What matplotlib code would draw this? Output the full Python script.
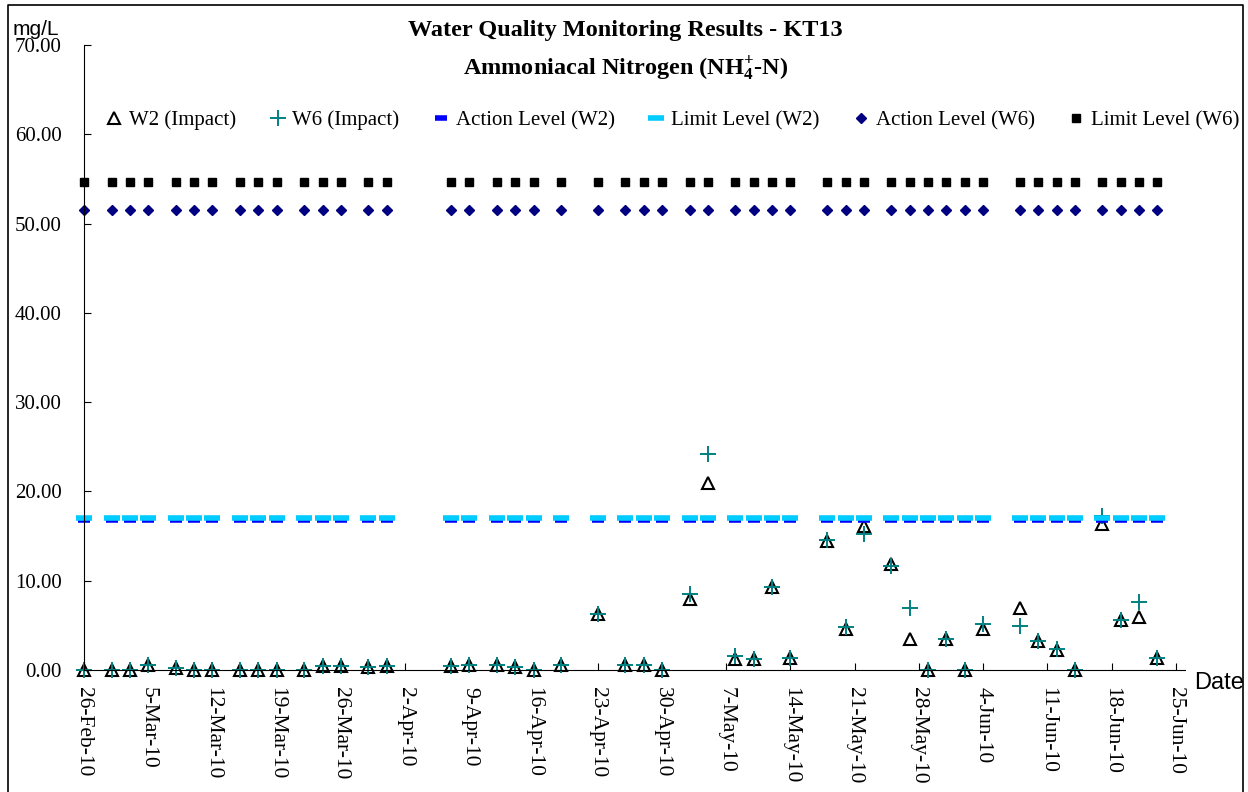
import pandas as pd
import matplotlib.pyplot as plt
import matplotlib.dates as mdates
from matplotlib.lines import Line2D
from matplotlib.ticker import FuncFormatter, FormatStrFormatter

# sampling dates and results (mg/L)
dates = ["2010-02-26", "2010-03-01", "2010-03-03", "2010-03-05", "2010-03-08",
         "2010-03-10", "2010-03-12", "2010-03-15", "2010-03-17", "2010-03-19",
         "2010-03-22", "2010-03-24", "2010-03-26", "2010-03-29", "2010-03-31",
         "2010-04-07", "2010-04-09", "2010-04-12", "2010-04-14", "2010-04-16",
         "2010-04-19", "2010-04-23", "2010-04-26", "2010-04-28", "2010-04-30",
         "2010-05-03", "2010-05-05", "2010-05-08", "2010-05-10", "2010-05-12",
         "2010-05-14", "2010-05-18", "2010-05-20", "2010-05-22", "2010-05-25",
         "2010-05-27", "2010-05-29", "2010-05-31", "2010-06-02", "2010-06-04",
         "2010-06-08", "2010-06-10", "2010-06-12", "2010-06-14", "2010-06-17",
         "2010-06-19", "2010-06-21", "2010-06-23"]
w2 = [0.0, 0.0, 0.0, 0.6, 0.2, 0.0, 0.0, 0.0, 0.0, 0.0,
      0.0, 0.4, 0.4, 0.3, 0.5, 0.4, 0.6, 0.6, 0.3, 0.0,
      0.6, 6.3, 0.6, 0.6, 0.0, 8.0, 21.0, 1.2, 1.2, 9.3,
      1.4, 14.5, 4.6, 16.1, 11.9, 3.5, 0.0, 3.5, 0.0, 4.6,
      7.0, 3.3, 2.2, 0.0, 16.4, 5.6, 5.9, 1.4]
w6 = [0.0, 0.0, 0.0, 0.6, 0.2, 0.0, 0.0, 0.0, 0.0, 0.0,
      0.0, 0.4, 0.4, 0.3, 0.5, 0.4, 0.6, 0.6, 0.3, 0.0,
      0.6, 6.3, 0.6, 0.6, 0.0, 8.5, 24.2, 1.6, 1.2, 9.3,
      1.4, 14.6, 4.8, 15.2, 11.7, 7.0, 0.0, 3.5, 0.0, 5.1,
      4.9, 3.3, 2.4, 0.0, 17.3, 5.6, 7.6, 1.4]
action_w2 = 16.8
limit_w2 = 17.0
action_w6 = 51.5
limit_w6 = 54.6

x = pd.to_datetime(dates)
n = len(dates)
serif = "Liberation Serif"
narrow = ["Liberation Sans Narrow", "Liberation Sans", "DejaVu Sans"]

plt.rcParams["font.family"] = serif
plt.rcParams["mathtext.fontset"] = "custom"
plt.rcParams["mathtext.rm"] = serif
plt.rcParams["mathtext.default"] = "regular"

fig = plt.figure(figsize=(12.48, 7.92), dpi=100)
ax = fig.add_axes([0.0673, 0.154, 0.8822, 0.7892])

ax.plot(x, w2, ls="none", marker="^", ms=9, mfc="none", mec="black", mew=1.5,
        label="W2 (Impact)")
ax.plot(x, w6, ls="none", marker="+", ms=11, mec="#008080", mew=1.4,
        label="W6 (Impact)")
ax.plot(x, [action_w2] * n, ls="none", marker="_", ms=9, mec="#0000FF", mew=4,
        label="Action Level (W2)")
ax.plot(x, [limit_w2] * n, ls="none", marker="_", ms=11, mec="#00CCFF", mew=4,
        label="Limit Level (W2)")
ax.plot(x, [action_w6] * n, ls="none", marker="D", ms=5.5, mfc="#000080",
        mec="#000080", label="Action Level (W6)")
ax.plot(x, [limit_w6] * n, ls="none", marker="s", ms=6, mfc="black",
        mec="black", label="Limit Level (W6)")

ax.set_ylim(0, 70)
ax.set_yticks(range(0, 71, 10))
ax.yaxis.set_major_formatter(FormatStrFormatter("%.2f"))
ax.set_xlim(pd.Timestamp("2010-02-26"), pd.Timestamp("2010-06-26"))
ax.set_xticks(pd.date_range("2010-02-26", "2010-06-25", freq="7D"))


def day_label(v, pos):
    d = mdates.num2date(v)
    return f"{d.day}-{d.strftime('%b-%y')}"


ax.xaxis.set_major_formatter(FuncFormatter(day_label))
ax.tick_params(axis="y", direction="in", length=5, pad=16, labelsize=15)
ax.tick_params(axis="x", direction="in", length=5, pad=12, labelsize=15.5,
               labelrotation=-90)
for lab in ax.get_xticklabels():
    lab.set_va("top")
    lab.set_ha("center")
for s in ["top", "right"]:
    ax.spines[s].set_visible(False)
for ln in ax.lines:
    ln.set_clip_on(False)

fig.text(0.5008, 0.9545, "Water Quality Monitoring Results - KT13", ha="center",
         va="baseline", fontsize=17.5, fontweight="bold")
fig.text(0.5016, 0.906, "Ammoniacal Nitrogen (NH$^{+}_{4}$-N)", ha="center",
         va="baseline", fontsize=17.5, fontweight="bold")
fig.text(0.0104, 0.9558, "mg/L", family=narrow, fontsize=15, ha="left", va="baseline")
fig.text(0.957, 0.1376, "Date", family=narrow, fontsize=17, ha="left", va="center")

ax.legend(loc="center", bbox_to_anchor=(0.539, 0.848), bbox_transform=fig.transFigure,
          ncol=6, frameon=False, fontsize=15, handlelength=0.8, handletextpad=0.3,
          columnspacing=1.6, borderpad=0)

# outer chart frame
fig.add_artist(Line2D([0.0064, 0.0064, 0.996, 0.996], [-0.01, 0.9937, 0.9937, -0.01],
                      color="black", lw=1.2, transform=fig.transFigure))

fig.savefig("out.png", dpi=100)
